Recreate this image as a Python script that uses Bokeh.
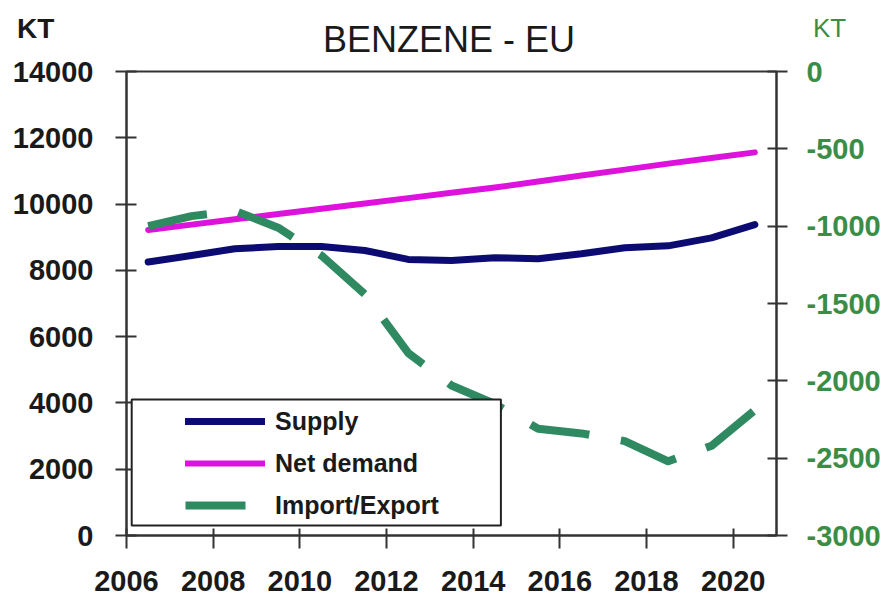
from bokeh.plotting import figure
from bokeh.layouts import column
from bokeh.models import Range1d, LinearAxis, FixedTicker, BoxAnnotation, Legend, LegendItem, Div
from bokeh.embed import file_html
from bokeh.resources import INLINE

# ---- data (KT) ----
years = [2006, 2007, 2008, 2009, 2010, 2011, 2012, 2013, 2014, 2015, 2016, 2017, 2018, 2019, 2020]
supply = [8250, 8450, 8650, 8720, 8720, 8600, 8330, 8300, 8380, 8350, 8500, 8680, 8740, 8980, 9380]
net_demand = [9220, 9380, 9540, 9700, 9860, 10020, 10180, 10340, 10500, 10680, 10860, 11040, 11220, 11390, 11560]
import_export = [-1000, -935, -900, -1010, -1190, -1440, -1820, -2030, -2150, -2310, -2340, -2390, -2520, -2420, -2190]
x_ticks = [2006, 2008, 2010, 2012, 2014, 2016, 2018, 2020]
left_ticks = [0, 2000, 4000, 6000, 8000, 10000, 12000, 14000]
right_ticks = [-3000, -2500, -2000, -1500, -1000, -500, 0]
title_text = "BENZENE - EU"
unit_text = "KT"

# values are annual figures plotted at mid-year
xs = [y + 0.5 for y in years]

FONT = "Liberation Sans"
GREEN_TXT = "#3b8d45"
AX = "#333333"

# ---- header (title and unit labels) ----
header_html = (
    f'<div style="position:relative;width:888px;height:54px;font-family:\'{FONT}\';">'
    f'<span style="position:absolute;left:17px;top:15px;font-size:28px;line-height:1;'
    f'font-weight:bold;color:#1a1a1a;white-space:nowrap;">{unit_text}</span>'
    f'<span style="position:absolute;left:5px;top:22px;width:888px;text-align:center;'
    f'font-size:36px;line-height:1;color:#1a1a1a;white-space:nowrap;">{title_text}</span>'
    f'<span style="position:absolute;left:813px;top:15px;font-size:26px;line-height:1;'
    f'color:{GREEN_TXT};white-space:nowrap;">{unit_text}</span>'
    '</div>'
)
head = Div(text=header_html, width=888, height=54, margin=(0, 0, 0, 0))

# ---- main chart ----
p = figure(width=888, height=545, output_backend="svg", toolbar_location=None,
           x_range=Range1d(2006, 2021), y_range=Range1d(0, 14000),
           min_border_left=126, min_border_right=112, min_border_top=17, min_border_bottom=64)
p.background_fill_color = "white"
p.border_fill_color = "white"
p.outline_line_color = AX
p.outline_line_width = 2
p.xgrid.visible = False
p.ygrid.visible = False

p.extra_y_ranges = {"right": Range1d(-3000, 0)}

for ax in (p.xaxis[0], p.yaxis[0]):
    ax.axis_line_color = AX
    ax.axis_line_width = 2
    ax.major_tick_line_color = AX
    ax.major_tick_line_width = 2
    ax.minor_tick_line_color = None
    ax.major_label_text_font = FONT
    ax.major_label_text_font_style = "bold"
    ax.major_label_text_font_size = "29px"
    ax.major_label_text_color = "#1a1a1a"

p.xaxis.ticker = FixedTicker(ticks=x_ticks)
p.xaxis.major_tick_in = 7
p.xaxis.major_tick_out = 13
p.xaxis.major_label_standoff = 22

p.yaxis.ticker = FixedTicker(ticks=left_ticks)
p.yaxis.major_tick_in = 10
p.yaxis.major_tick_out = 11
p.yaxis.major_label_standoff = 22

raxis = LinearAxis(y_range_name="right", ticker=FixedTicker(ticks=right_ticks))
raxis.axis_line_color = AX
raxis.axis_line_width = 2
raxis.major_tick_line_color = AX
raxis.major_tick_line_width = 2
raxis.major_tick_in = 9
raxis.major_tick_out = 11
raxis.minor_tick_line_color = None
raxis.major_label_standoff = 19
raxis.major_label_text_font = FONT
raxis.major_label_text_font_style = "bold"
raxis.major_label_text_font_size = "29px"
raxis.major_label_text_color = GREEN_TXT
raxis.major_label_overrides = {t: str(t) for t in right_ticks}
p.add_layout(raxis, "right")

# series
r_sup = p.line(xs, supply, line_color="#0b0b72", line_width=7, line_join="round", line_cap="round")
r_dem = p.line(xs, net_demand, line_color="#dd12dd", line_width=6, line_join="round", line_cap="round")
r_imp = p.line(xs, import_export, y_range_name="right", line_color="#2f8a62", line_width=8,
               line_dash="60 32", line_join="round")

# legend box
box = BoxAnnotation(left=2006.12, right=2014.64, bottom=300, top=4100,
                    fill_color="white", fill_alpha=1.0, line_color="#222222", line_alpha=1.0,
                    line_width=2)
p.add_layout(box)

legend = Legend(items=[LegendItem(label="Supply", renderers=[r_sup]),
                       LegendItem(label="Net demand", renderers=[r_dem]),
                       LegendItem(label="Import/Export", renderers=[r_imp])],
                location=(59, 15), orientation="vertical",
                border_line_alpha=0, background_fill_alpha=0,
                glyph_width=80, glyph_height=30, spacing=12, padding=0, margin=0,
                label_standoff=10, label_text_font=FONT, label_text_font_style="bold",
                label_text_font_size="25px", label_text_color="#1a1a1a")
p.add_layout(legend)

layout = column(head, p, spacing=0)
open("out.html", "w").write(file_html(layout, INLINE))
